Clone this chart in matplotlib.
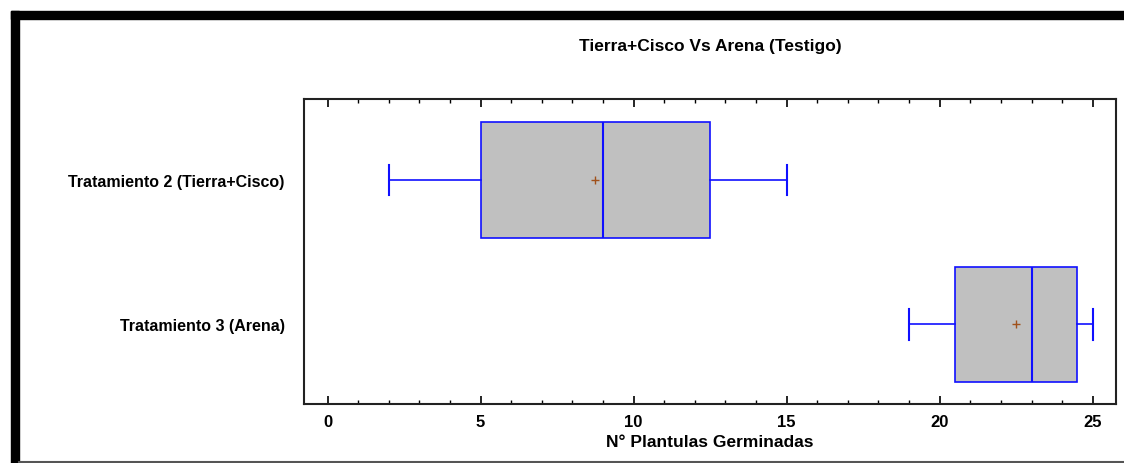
import matplotlib
matplotlib.use("Agg")
import matplotlib.pyplot as plt
from matplotlib.patches import Rectangle
from matplotlib.lines import Line2D
from matplotlib.ticker import MultipleLocator

plt.rcParams['font.family'] = ['Liberation Sans', 'DejaVu Sans']
plt.rcParams['font.weight'] = 'bold'

# datos de las cajas (de abajo hacia arriba)
grupos = ['Tratamiento 3 (Arena)', 'Tratamiento 2 (Tierra+Cisco)']
minimo = [19, 2]
q1 = [20.5, 5]
mediana = [23, 9]
q3 = [24.5, 12.5]
maximo = [25, 15]
media = [22.5, 8.75]

titulo = 'Tierra+Cisco Vs Arena (Testigo)'
xlabel = 'N° Plantulas Germinadas'

fig = plt.figure(figsize=(11.24, 4.64), dpi=100)
W, H = 1124, 464

# marco negro grueso (arriba e izquierda) y linea gris abajo
fig.patches.append(Rectangle((11 / W, 1 - 20 / H), 1 - 11 / W, 8 / H,
                             transform=fig.transFigure, color='black', zorder=0))
fig.patches.append(Rectangle((11 / W, 0), 8 / W, 1 - 12 / H,
                             transform=fig.transFigure, color='black', zorder=0))
fig.lines.append(Line2D([19 / W, 1], [1.5 / H, 1.5 / H], transform=fig.transFigure,
                        color='#555555', lw=1.5))

ax = fig.add_axes([304 / W, 1 - 405 / H, (1116 - 304) / W, (405 - 100) / H])

stats = []
for i in range(len(grupos)):
    stats.append(dict(whislo=minimo[i], q1=q1[i], med=mediana[i], q3=q3[i],
                      whishi=maximo[i], mean=media[i], fliers=[]))

azul = '#1010ff'
ax.bxp(stats, positions=[1, 2], widths=0.8, vert=False, patch_artist=True,
       showmeans=True, showfliers=False,
       boxprops=dict(facecolor='#c0c0c0', edgecolor=azul, lw=1.2),
       medianprops=dict(color=azul, lw=1.5),
       whiskerprops=dict(color=azul, lw=1.2),
       capprops=dict(color=azul, lw=1.5),
       capwidths=0.21,
       meanprops=dict(marker='+', markeredgecolor='#a0501a', markersize=6,
                      markeredgewidth=1.0))

ax.set_xlim(-0.77, 25.76)
ax.set_ylim(0.45, 2.56)
ax.set_yticks([1, 2])
ax.set_yticklabels(grupos, fontsize=11.5, fontweight='bold')
ax.xaxis.set_major_locator(MultipleLocator(5))
ax.xaxis.set_minor_locator(MultipleLocator(1))
ax.tick_params(axis='x', which='major', direction='in', top=True, length=6,
               width=1.2, labelsize=12, pad=7)
ax.tick_params(axis='x', which='minor', direction='in', top=True, length=3, width=1)
ax.tick_params(axis='y', length=0, pad=14)
for s in ax.spines.values():
    s.set_linewidth(1.5)
    s.set_color('#222222')

ax.set_xlabel(xlabel, fontsize=12.5, fontweight='bold', labelpad=4)
fig.text(710 / W, 1 - 47 / H, titulo, ha='center', va='center',
         fontsize=12.5, fontweight='bold')

fig.savefig('out.png', dpi=100)
